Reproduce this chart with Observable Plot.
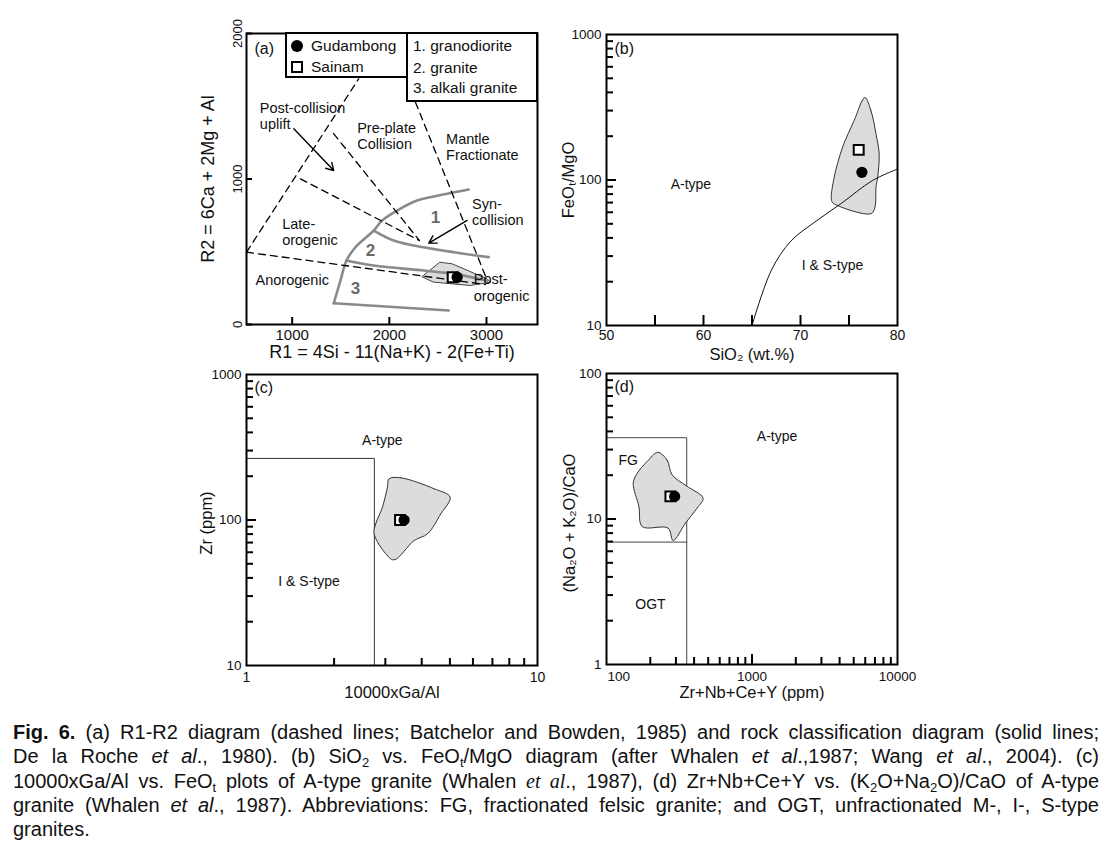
<!DOCTYPE html>
<html><head><meta charset="utf-8">
<script src="https://cdn.jsdelivr.net/npm/d3@7"></script>
<script src="https://cdn.jsdelivr.net/npm/@observablehq/plot@0.6"></script>
<style>
body{margin:0;background:#fff;font-family:"Liberation Sans",Arial,sans-serif;color:#111;}
#wrap{position:relative;width:1116px;height:849px;overflow:hidden;}
.lbox{position:absolute;box-sizing:border-box;border:2px solid #000;background:#fff;}
.ltxt{position:absolute;height:20px;line-height:20px;font-size:15.5px;white-space:nowrap;color:#111;}
.sym-c{position:absolute;width:12px;height:12px;border-radius:50%;background:#000;}
.sym-s{position:absolute;box-sizing:border-box;width:12px;height:12px;border:2px solid #000;background:#fff;}
#cap{position:absolute;left:13px;top:720px;width:1086px;font-size:20px;color:#111;}
#cap div{height:24.3px;line-height:24.3px;white-space:nowrap;}
#cap sub{font-size:13px;line-height:0;vertical-align:-4px;}
.serif{font-family:"Liberation Serif",serif;}
</style></head>
<body><div id="wrap"></div>
<script>
// ---------- Panel (a): R1-R2 ----------
const aSampleName = ["Sainam", "Gudambong"];
const aSampleR1 = [2652, 2698];
const aSampleR2 = [325, 325];
const aFieldR1 = [2338, 2519, 2646, 3006, 3040, 2835, 2457];
const aFieldR2 = [330, 428, 417, 314, 291, 268, 291];
const aArcR1 = [1428, 1497, 1559, 1651, 1840, 1926, 2097, 2286, 2457, 2817];
const aArcR2 = [146, 302, 440, 531, 646, 715, 790, 852, 880, 928];
const aLine3R1 = [1428, 2611];
const aLine3R2 = [146, 96];
const aLine23R1 = [1559, 1840, 2354, 2663, 3006];
const aLine23R2 = [440, 405, 371, 348, 302];
const aLine12R1 = [1840, 2045, 2251, 2663, 3023];
const aLine12R2 = [646, 577, 543, 497, 463];
const aDash1R1 = [530, 1685], aDash1R2 = [497, 1689];
const aDash2R1 = [1085, 2310], aDash2R2 = [1001, 577];
const aDash3R1 = [1425, 2310], aDash3R2 = [1313, 577];
const aDash4R1 = [2269, 3000], aDash4R2 = [1528, 316];
const aDash5R1 = [530, 2989], aDash5R2 = [497, 275];
const aArrowFrom = [[1017, 1345], [2801, 715]];
const aArrowTo = [[1428, 1058], [2406, 559]];
const aLabelText = ["Post-collision\nuplift", "Pre-plate\nCollision", "Mantle\nFractionate", "Syn-\ncollision", "Late-\norogenic", "Anorogenic", "Post-\norogenic"];
const aLabelR1 = [667, 1669, 2584, 2851, 897, 623, 2869];
const aLabelR2 = [1434, 1299, 1222, 777, 639, 309, 256];
const aNumText = ["1", "2", "3"];
const aNumR1 = [2474, 1806, 1651];
const aNumR2 = [733, 509, 245];
const aXTicks = [1000, 2000, 3000];
const aYTicks = [0, 1000, 2000];
const aLegendRocks = ["1. granodiorite", "2. granite", "3. alkali granite"];

// ---------- Panel (b): SiO2 vs FeO/MgO ----------
const bSiO2 = [76.0, 76.33];
const bRatio = [161, 113];
const bCurveSiO2 = [65, 67, 69, 71.4, 74.2, 77.4, 80];
const bCurveRatio = [10, 24, 38, 51, 69, 99, 119];
const bFieldSiO2 = [76.64, 77.26, 77.78, 78.11, 77.95, 77.78, 77.68, 77.26, 73.47, 73.2, 73.47, 74.34, 75.53];
const bFieldRatio = [369, 300, 208, 151, 104, 89, 65, 58.6, 68.6, 72.3, 104, 168, 256];
const bLabelText = ["A-type", "I & S-type"];
const bLabelX = [58.7, 73.3];
const bLabelY = [93, 25.9];
const bXTicks = [55, 60, 65, 70, 75];
const bXTickLabels = [50, 60, 70, 80];
const bYMinor = [20, 30, 40, 50, 60, 70, 80, 90, 200, 300, 400, 500, 600, 700, 800, 900];
const bYMajor = [100];
const bYTickLabels = [10, 100, 1000];

// ---------- Panel (c): Ga/Al vs Zr ----------
const cGa = [3.37, 3.48];
const cZr = [100, 100];
const cBoundGa = [1, 2.75, 2.75];
const cBoundZr = [265, 265, 10];
const cFieldGa = [3.09, 3.39, 4.41, 5.01, 4.65, 4.19, 3.77, 3.21, 3.01, 2.745, 2.78, 2.93, 3.05];
const cFieldZr = [192, 195, 164, 143.6, 110, 80.4, 72.3, 53.2, 58.6, 80.4, 94.2, 122, 168];
const cLabelText = ["A-type", "I & S-type"];
const cLabelX = [2.93, 1.64];
const cLabelY = [352, 37.8];
const cXTicks = [2, 3, 4, 5, 6, 7, 8, 9];
const cXTickLabels = [1, 10];
const cYMinor = [20, 30, 40, 50, 60, 70, 80, 90, 200, 300, 400, 500, 600, 700, 800, 900];
const cYMajor = [100];
const cYTickLabels = [10, 100, 1000];

// ---------- Panel (d): Zr+Nb+Ce+Y vs (Na2O+K2O)/CaO ----------
const dSum = [275, 294];
const dRatio = [14.3, 14.3];
const dFGx = [100, 356, 356];
const dFGy = [36.2, 36.2, 1];
const dOGTx = [100, 356];
const dOGTy = [6.94, 6.94];
const dFieldX = [225, 261, 282.6, 354, 461, 420, 349, 287, 265, 176, 167, 152.6, 162.5, 190];
const dFieldY = [28.7, 25.4, 20.1, 16.9, 13.9, 11.9, 9.37, 7.12, 8.66, 8.88, 12.2, 17.6, 20.6, 24.8];
const dLabelText = ["A-type", "FG", "OGT"];
const dLabelX = [1486, 141, 200.5];
const dLabelY = [36.8, 25.4, 2.58];
const dXMinor = [200, 300, 400, 500, 600, 700, 800, 900, 2000, 3000, 4000, 5000, 6000, 7000, 8000, 9000];
const dXMajor = [1000];
const dXTickLabels = [100, 1000, 10000];
const dYMinor = [2, 3, 4, 5, 6, 7, 8, 9, 20, 30, 40, 50, 60, 70, 80, 90];
const dYMajor = [10];
const dYTickLabels = [1, 10, 100];

// ---------- helpers ----------
const wrap = document.getElementById("wrap");
const W = 360, H = 360, ML = 54, MT = 24, MR = 15, MB = 45, F = 291;
const FONT = "Liberation Sans, Arial, sans-serif";
const zip = (xs, ys) => xs.map((x, i) => ({x, y: ys[i]}));
const xt = (vals, len) => Plot.ruleX(vals, {x: d => d, insetTop: F - len, stroke: "#000", strokeWidth: 2});
const yt = (vals, len) => Plot.ruleY(vals, {y: d => d, insetRight: F - len, stroke: "#000", strokeWidth: 2});
const xl = (vals, size, dy, anchor = "middle", dx = 0) => Plot.text(vals, {x: d => d, frameAnchor: "bottom", dy: dy, dx: dx, textAnchor: anchor, lineAnchor: "middle", text: d => String(d), fontSize: size, fill: "#111"});
const yl = (vals, size) => Plot.text(vals, {y: d => d, frameAnchor: "left", dx: -5, textAnchor: "end", lineAnchor: "middle", text: d => String(d), fontSize: size, fill: "#111"});
const xLabel = (t, dy, size = 16.5) => Plot.text([t], {frameAnchor: "bottom", dy: dy, textAnchor: "middle", lineAnchor: "middle", text: d => d, fontSize: size, fill: "#111"});
const yLabel = (t, dx, dy = 0, size = 16.5) => Plot.text([t], {frameAnchor: "left", dx: dx, dy: dy, rotate: -90, textAnchor: "middle", lineAnchor: "middle", text: d => d, fontSize: size, fill: "#111"});
const tag = (t, dy) => Plot.text([t], {frameAnchor: "top-left", dx: 8, dy: dy, textAnchor: "start", lineAnchor: "middle", text: d => d, fontSize: 16, fill: "#111"});
const field = (xs, ys) => Plot.line(zip(xs, ys), {x: "x", y: "y", curve: "catmull-rom-closed", fill: "#dcdcdc", stroke: "#333", strokeWidth: 1});
const samples = (xs, ys) => [
  Plot.dot([zip(xs, ys)[0]], {x: "x", y: "y", symbol: "square", r: 5.6, fill: "#fff", stroke: "#000", strokeWidth: 2}),
  Plot.dot([zip(xs, ys)[1]], {x: "x", y: "y", symbol: "circle", r: 5.6, fill: "#000", stroke: "none"})
];
function panel(left, top, opts) {
  const svg = Plot.plot({
    width: W, height: H, marginLeft: ML, marginTop: MT, marginRight: MR, marginBottom: MB,
    style: {background: "transparent", overflow: "visible", fontFamily: FONT},
    ...opts
  });
  svg.style.position = "absolute";
  svg.style.left = left + "px";
  svg.style.top = top + "px";
  wrap.appendChild(svg);
}
const frame = Plot.frame({stroke: "#000", strokeWidth: 2});

// ---------- draw (a) ----------
const dash = (xs, ys) => Plot.line(zip(xs, ys), {x: "x", y: "y", stroke: "#000", strokeWidth: 1.3, strokeDasharray: "7,5"});
const grey = (xs, ys) => Plot.line(zip(xs, ys), {x: "x", y: "y", stroke: "#8a8a8a", strokeWidth: 2.6, curve: "catmull-rom"});
panel(246 - ML, 33 - MT, {
  x: {domain: [530, 3525], axis: null},
  y: {domain: [0, 2000], axis: null},
  marks: [
    Plot.line(zip(aFieldR1, aFieldR2), {x: "x", y: "y", curve: "linear-closed", fill: "#dcdcdc", stroke: "#444", strokeWidth: 1}),
    grey(aArcR1, aArcR2), grey(aLine3R1, aLine3R2), grey(aLine23R1, aLine23R2), grey(aLine12R1, aLine12R2),
    dash(aDash1R1, aDash1R2), dash(aDash2R1, aDash2R2), dash(aDash3R1, aDash3R2), dash(aDash4R1, aDash4R2), dash(aDash5R1, aDash5R2),
    Plot.arrow(aArrowFrom.map((f, i) => ({x1: f[0], y1: f[1], x2: aArrowTo[i][0], y2: aArrowTo[i][1]})),
      {x1: "x1", y1: "y1", x2: "x2", y2: "y2", stroke: "#000", strokeWidth: 1.4, headLength: 9}),
    Plot.text(aLabelText.map((t, i) => ({t, x: aLabelR1[i], y: aLabelR2[i]})),
      {x: "x", y: "y", text: "t", textAnchor: "start", fontSize: 14.5, lineHeight: 1.12, fill: "#111"}),
    Plot.text(aNumText.map((t, i) => ({t, x: aNumR1[i], y: aNumR2[i]})),
      {x: "x", y: "y", text: "t", fontSize: 17, fontWeight: "bold", fill: "#6a6a6a"}),
    ...samples(aSampleR1, aSampleR2),
    xt(aXTicks, 7), yt(aYTicks, 6),
    xl(aXTicks, 15, 11),
    Plot.text(aYTicks, {y: d => d, frameAnchor: "left", dx: -9, rotate: -90, textAnchor: "middle", lineAnchor: "middle", text: d => String(d), fontSize: 13, fill: "#111"}),
    xLabel("R1 = 4Si - 11(Na+K) - 2(Fe+Ti)", 28, 18),
    yLabel("R2 = 6Ca + 2Mg + Al", -38, 0, 18),
    tag("(a)", 15),
    frame
  ]
});

// ---------- draw (b) ----------
panel(606 - ML, 34 - MT, {
  x: {domain: [50, 80], axis: null},
  y: {type: "log", domain: [10, 1000], axis: null},
  marks: [
    field(bFieldSiO2, bFieldRatio),
    Plot.line(zip(bCurveSiO2, bCurveRatio), {x: "x", y: "y", stroke: "#111", strokeWidth: 1, curve: "catmull-rom"}),
    ...samples(bSiO2, bRatio),
    Plot.text(bLabelText.map((t, i) => ({t, x: bLabelX[i], y: bLabelY[i]})), {x: "x", y: "y", text: "t", fontSize: 14, fill: "#111"}),
    xt(bXTicks, 10), yt(bYMinor, 7), yt(bYMajor, 10),
    xl(bXTickLabels, 14, 10), yl(bYTickLabels, 13.5),
    xLabel("SiO₂ (wt.%)", 29),
    yLabel("FeOₜ/MgO", -38),
    tag("(b)", 14),
    frame
  ]
});

// ---------- draw (c) ----------
panel(246 - ML, 374 - MT, {
  x: {type: "log", domain: [1, 10], axis: null},
  y: {type: "log", domain: [10, 1000], axis: null},
  marks: [
    Plot.line(zip(cBoundGa, cBoundZr), {x: "x", y: "y", stroke: "#333", strokeWidth: 1}),
    field(cFieldGa, cFieldZr),
    ...samples(cGa, cZr),
    Plot.text(cLabelText.map((t, i) => ({t, x: cLabelX[i], y: cLabelY[i]})), {x: "x", y: "y", text: "t", fontSize: 14, fill: "#111"}),
    xt(cXTicks, 7), yt(cYMinor, 7), yt(cYMajor, 10),
    xl(cXTickLabels, 14, 12), yl(cYTickLabels, 13.5),
    xLabel("10000xGa/Al", 27),
    yLabel("Zr (ppm)", -40, 3),
    tag("(c)", 13),
    frame
  ]
});

// ---------- draw (d) ----------
panel(606 - ML, 373 - MT, {
  x: {type: "log", domain: [100, 10000], axis: null},
  y: {type: "log", domain: [1, 100], axis: null},
  marks: [
    Plot.line(zip(dFGx, dFGy), {x: "x", y: "y", stroke: "#444", strokeWidth: 1}),
    Plot.line(zip(dOGTx, dOGTy), {x: "x", y: "y", stroke: "#444", strokeWidth: 1}),
    field(dFieldX, dFieldY),
    ...samples(dSum, dRatio),
    Plot.text(dLabelText.map((t, i) => ({t, x: dLabelX[i], y: dLabelY[i]})), {x: "x", y: "y", text: "t", fontSize: 14, fill: "#111"}),
    xt(dXMinor, 7), xt(dXMajor, 10), yt(dYMinor, 7), yt(dYMajor, 10),
    xl(dXTickLabels.slice(0, 1), 13.5, 12, "start", 1),
    xl(dXTickLabels.slice(1), 13.5, 12),
    yl(dYTickLabels, 13.5),
    xLabel("Zr+Nb+Ce+Y (ppm)", 28),
    yLabel("(Na₂O + K₂O)/CaO", -37, 4),
    tag("(d)", 13),
    frame
  ]
});

// ---------- legend of (a) ----------
function addEl(cls, style, text) {
  const e = document.createElement("div");
  e.className = cls;
  Object.assign(e.style, style);
  if (text) e.textContent = text;
  wrap.appendChild(e);
}
addEl("lbox", {left: "285px", top: "32px", width: "123px", height: "46px"});
addEl("lbox", {left: "406px", top: "32px", width: "132px", height: "70px"});
addEl("sym-c", {left: "291px", top: "40px"});
addEl("ltxt", {left: "311px", top: "36px"}, aSampleName[1]);
addEl("sym-s", {left: "291px", top: "61px"});
addEl("ltxt", {left: "311px", top: "57px"}, aSampleName[0]);
[46, 68, 88].forEach((cy, i) => addEl("ltxt", {left: "413px", top: (cy - 10) + "px"}, aLegendRocks[i]));

// ---------- caption ----------
const cap = document.createElement("div");
cap.id = "cap";
cap.innerHTML =
  '<div class="j"><span><b>Fig. 6.</b> (a) R1-R2 diagram (dashed lines; Batchelor and Bowden, 1985) and rock classification diagram (solid lines;</span></div>' +
  '<div class="j"><span>De la Roche <i>et al</i>., 1980). (b) SiO<sub>2</sub> vs. FeO<sub>t</sub>/MgO diagram (after Whalen <i>et al</i>.,1987; Wang <i>et al</i>., 2004). (c)</span></div>' +
  '<div class="j"><span>10000xGa/Al vs. FeO<sub>t</sub> plots of A-type granite (Whalen <i class="serif">et al</i>., 1987), (d) Zr+Nb+Ce+Y vs. (K<sub>2</sub>O+Na<sub>2</sub>O)/CaO of A-type</span></div>' +
  '<div class="j"><span>granite (Whalen <i>et al</i>., 1987). Abbreviations: FG, fractionated felsic granite; and OGT, unfractionated M-, I-, S-type</span></div>' +
  '<div><span>granites.</span></div>';
wrap.appendChild(cap);
cap.querySelectorAll("div.j").forEach(div => {
  const span = div.firstChild;
  const w = span.getBoundingClientRect().width;
  const spaces = (span.textContent.match(/ /g) || []).length;
  if (spaces > 0) div.style.wordSpacing = ((1086 - w) / spaces).toFixed(3) + "px";
});
</script>
</body></html>
